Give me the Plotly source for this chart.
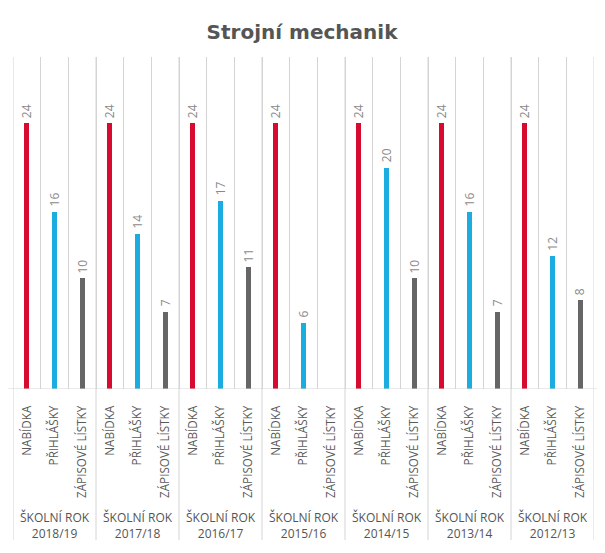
import plotly.graph_objects as go

years = ["2018/19", "2017/18", "2016/17", "2015/16", "2014/15", "2013/14", "2012/13"]
series_names = ["NABÍDKA", "PŘIHLÁŠKY", "ZÁPISOVÉ LÍSTKY"]
nabidka = [24, 24, 24, 24, 24, 24, 24]
prihlasky = [16, 14, 17, 6, 20, 16, 12]
zapisove = [10, 7, 11, None, 10, 7, 8]
colors = ["#D70A30", "#1BADE0", "#666666"]
group_prefix = "ŠKOLNÍ ROK"

series = [nabidka, prihlasky, zapisove]
n_groups = len(years)
n_series = len(series)
n_slots = n_groups * n_series

fig = go.Figure()
annotations = []
for k, (name, vals, col) in enumerate(zip(series_names, series, colors)):
    xs = [g * n_series + k + 0.5 for g in range(n_groups)]
    fig.add_trace(go.Bar(
        x=xs, y=vals, name=name, width=0.19,
        marker=dict(color=col, line=dict(width=0)),
        showlegend=False, hoverinfo="x+y",
    ))
    for x, v in zip(xs, vals):
        if v is None:
            continue
        annotations.append(dict(
            x=x, y=v, xref="x", yref="y", text=str(v), showarrow=False,
            textangle=-90, xanchor="center", yanchor="bottom", yshift=3,
            font=dict(family="Open Sans", size=12, color="#8a8a8a")))

tickvals = [i + 0.5 for i in range(n_slots)]
ticktext = [series_names[i % n_series] for i in range(n_slots)]

shapes = []
for g in range(n_groups + 1):
    shapes.append(dict(type="line", xref="x", yref="paper",
                       x0=g * n_series, x1=g * n_series, y0=-0.455, y1=1,
                       line=dict(color="#d4d4d4", width=1)))
shapes.append(dict(type="line", xref="paper", yref="y", x0=-0.02, x1=1.02,
                   y0=0, y1=0, line=dict(color="#d4d4d4", width=1)))

for g, yr in enumerate(years):
    annotations.append(dict(
        x=g * n_series + n_series / 2, xref="x", y=-0.41, yref="paper",
        text=f"{group_prefix}<br>{yr}", showarrow=False,
        font=dict(family="Open Sans", size=12, color="#555555"),
        xanchor="center", yanchor="middle", align="center"))

fig.update_layout(
    width=605, height=553,
    margin=dict(l=5, r=19, t=49, b=172),
    paper_bgcolor="white", plot_bgcolor="white",
    title=dict(text="<b>Strojní mechanik</b>", x=(302 - 8) / 605, xanchor="center",
               y=1 - 24 / 553, yanchor="middle",
               font=dict(family="DejaVu Sans", size=20, color="#555555")),
    bargap=0,
    shapes=shapes, annotations=annotations,
    xaxis=dict(range=[0, n_slots], tickmode="array", tickvals=tickvals,
               ticktext=ticktext, tickangle=-90, showgrid=False,
               automargin=False,
               ticks="outside", ticklen=11, tickcolor="rgba(0,0,0,0)",
               tickfont=dict(family="Open Sans", size=11.7, color="#5a5a5a"),
               showline=False, zeroline=False,
               minor=dict(tickmode="linear", tick0=0, dtick=1, showgrid=True,
                          gridcolor="#d4d4d4", gridwidth=1)),
    yaxis=dict(range=[0, 30], showgrid=False, zeroline=False,
               showticklabels=False, visible=False, automargin=False),
)

fig.write_html("out.html")
